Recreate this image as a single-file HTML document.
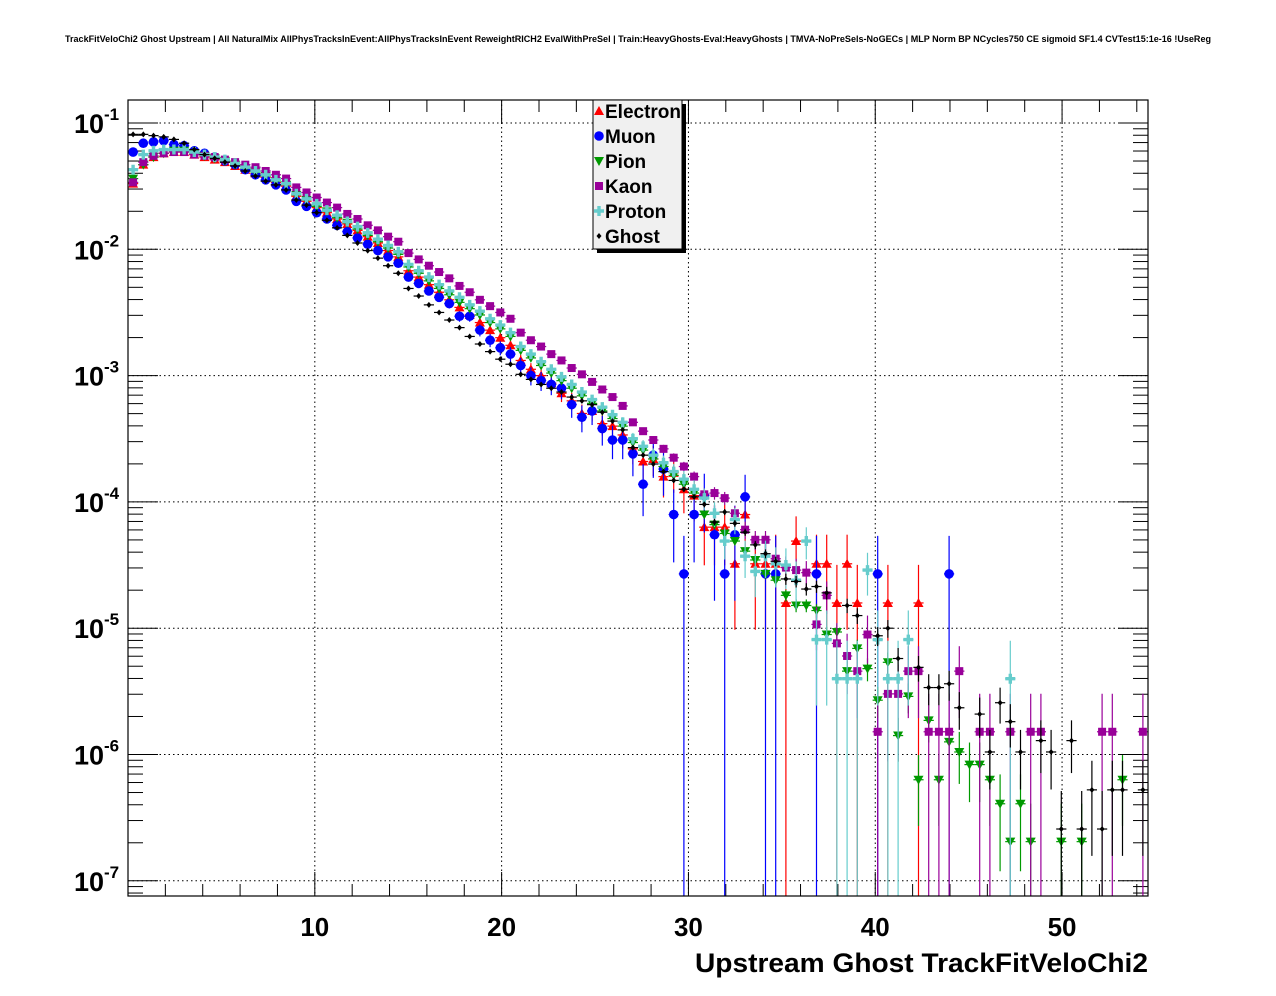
<!DOCTYPE html>
<html><head><meta charset="utf-8"><style>
html,body{margin:0;padding:0;background:#fff;}
svg{display:block;font-family:"Liberation Sans",sans-serif;}
</style></head><body>
<svg id="chart" width="1276" height="996" viewBox="0 0 1276 996" xmlns="http://www.w3.org/2000/svg">
<rect x="0" y="0" width="1276" height="996" fill="#fff"/>
<text x="638" y="42" text-anchor="middle" font-size="9.5" font-weight="bold" textLength="1146" lengthAdjust="spacingAndGlyphs">TrackFitVeloChi2 Ghost Upstream | All NaturalMix AllPhysTracksInEvent:AllPhysTracksInEvent ReweightRICH2 EvalWithPreSel | Train:HeavyGhosts-Eval:HeavyGhosts | TMVA-NoPreSels-NoGECs | MLP Norm BP NCycles750 CE sigmoid SF1.4 CVTest15:1e-16 !UseReg</text>
<g id="grid"></g>
<g id="axes"></g>
<g id="series"></g>
<rect x="128" y="100" width="1020" height="796" fill="none" stroke="#000" stroke-width="1.2"/>
<g id="legend"></g>
<text x="695" y="972" font-size="27" font-weight="bold" textLength="453" lengthAdjust="spacingAndGlyphs">Upstream Ghost TrackFitVeloChi2</text>
</svg>
<script>
// ---- data (log10 of normalized entries per bin; 100 bins over 0..54.6) ----
const binWidth = 0.546;
const xTicks = [10, 20, 30, 40, 50];
const xTickLabels = ["10", "20", "30", "40", "50"];
const yDecades = [-1, -2, -3, -4, -5, -6, -7];
const seriesNames = ["Electron", "Muon", "Pion", "Kaon", "Proton", "Ghost"];

const electronMain = [-1.48,-1.33,-1.27,-1.24,-1.23,-1.23,-1.25,-1.27,-1.29,-1.31,-1.34,-1.37,-1.40,-1.43,-1.47,-1.50,-1.58,-1.62,-1.67,-1.71,-1.76,-1.80,-1.85,-1.90,-1.95,-2.01,-2.06,-2.17,-2.22,-2.28,-2.34,-2.40,-2.46,-2.52,-2.58,-2.64,-2.70,-2.76,-2.88,-2.95,-3.00,-3.06,-3.14,-3.20,-3.30,-3.28,-3.38,-3.40,-3.47,-3.58,-3.68,-3.66,-3.80,-3.77,-3.90,-3.95];
const muonMain = [-1.23,-1.16,-1.15,-1.14,-1.17,-1.18,-1.22,-1.24,-1.27,-1.30,-1.33,-1.37,-1.41,-1.45,-1.49,-1.53,-1.62,-1.66,-1.71,-1.76,-1.81,-1.86,-1.91,-1.96,-2.01,-2.06,-2.11,-2.22,-2.27,-2.33,-2.38,-2.43,-2.53,-2.53,-2.64,-2.72,-2.78,-2.83,-2.92,-3.00,-3.04,-3.07,-3.10,-3.23,-3.33,-3.28,-3.42,-3.51,-3.51,-3.62,-3.86,-3.63,-3.74,-4.10,-4.57,-4.10];
const pionMain = [-1.44,-1.33,-1.27,-1.24,-1.22,-1.22,-1.24,-1.26,-1.28,-1.30,-1.33,-1.36,-1.39,-1.42,-1.46,-1.49,-1.57,-1.61,-1.66,-1.70,-1.75,-1.79,-1.84,-1.89,-1.94,-1.99,-2.04,-2.14,-2.19,-2.25,-2.31,-2.36,-2.42,-2.47,-2.52,-2.58,-2.63,-2.69,-2.80,-2.86,-2.92,-2.98,-3.04,-3.10,-3.16,-3.22,-3.28,-3.34,-3.40,-3.53,-3.59,-3.66,-3.72,-3.79,-3.86,-3.93];
const kaonMain = [-1.47,-1.31,-1.26,-1.24,-1.23,-1.23,-1.25,-1.26,-1.27,-1.29,-1.31,-1.33,-1.35,-1.38,-1.41,-1.44,-1.51,-1.55,-1.59,-1.63,-1.67,-1.72,-1.76,-1.81,-1.85,-1.90,-1.94,-2.03,-2.08,-2.13,-2.18,-2.23,-2.29,-2.34,-2.40,-2.45,-2.50,-2.55,-2.66,-2.72,-2.77,-2.83,-2.88,-2.94,-2.99,-3.05,-3.11,-3.17,-3.24,-3.37,-3.44,-3.51,-3.58,-3.65,-3.72,-3.80];
const protonMain = [-1.37,-1.25,-1.22,-1.21,-1.21,-1.21,-1.23,-1.25,-1.27,-1.29,-1.32,-1.35,-1.38,-1.41,-1.45,-1.48,-1.56,-1.60,-1.64,-1.69,-1.73,-1.78,-1.82,-1.87,-1.92,-1.97,-2.02,-2.12,-2.17,-2.22,-2.28,-2.33,-2.38,-2.44,-2.49,-2.55,-2.60,-2.66,-2.77,-2.83,-2.89,-2.95,-3.01,-3.07,-3.13,-3.19,-3.25,-3.31,-3.37,-3.50,-3.56,-3.63,-3.69,-3.76,-3.82,-3.90];
const ghostMain = [-1.09,-1.09,-1.10,-1.11,-1.13,-1.16,-1.21,-1.25,-1.28,-1.31,-1.34,-1.38,-1.42,-1.46,-1.49,-1.53,-1.61,-1.65,-1.71,-1.77,-1.83,-1.89,-1.95,-2.01,-2.07,-2.13,-2.19,-2.31,-2.37,-2.44,-2.50,-2.56,-2.62,-2.69,-2.75,-2.81,-2.87,-2.91,-2.99,-3.03,-3.07,-3.10,-3.13,-3.17,-3.20,-3.23,-3.29,-3.36,-3.43,-3.57,-3.63,-3.70,-3.76,-3.83,-3.90,-3.96];

const electronTailBins = [56,57,58,59,60,61,62,63,64,65,67,68,69,70,71,74,77];
const electronTailVals = [-4.20,-4.20,-4.20,-4.49,-4.10,-4.49,-4.49,-4.49,-4.80,-4.31,-4.49,-4.49,-4.80,-4.49,-4.80,-4.80,-4.80];
const muonTailBins = [56,57,58,59,60,62,63,67,73,80];
const muonTailVals = [-3.95,-4.26,-4.57,-4.26,-3.96,-4.57,-4.57,-4.57,-4.57,-4.57];
const pionTailBins = [56,57,58,59,60,61,62,63,64,65,66,67,68,69,70,71,72,73,74,75,76,77,78,79,80,81,82,83,84,85,86,87,88,91,93,97];
const pionTailVals = [-4.10,-4.18,-4.25,-4.31,-4.39,-4.46,-4.57,-4.62,-4.74,-4.82,-4.82,-4.86,-5.05,-5.03,-5.34,-5.16,-5.32,-5.57,-5.27,-5.85,-5.54,-6.20,-5.73,-6.20,-5.90,-5.98,-6.08,-6.08,-6.20,-6.39,-6.69,-6.39,-6.69,-6.69,-6.69,-6.20];
const kaonTailBins = [56,57,58,59,60,61,62,63,64,65,66,67,68,69,70,71,72,73,74,75,76,77,78,79,80,81,83,84,86,88,89,95,96,99];
const kaonTailVals = [-3.94,-3.93,-3.97,-4.09,-4.22,-4.30,-4.30,-4.45,-4.52,-4.54,-4.56,-4.97,-4.74,-5.12,-5.22,-5.34,-5.05,-5.82,-5.52,-5.52,-5.34,-5.34,-5.82,-5.82,-5.82,-5.34,-5.82,-5.82,-5.82,-5.82,-5.82,-5.82,-5.82,-5.82];
const protonTailBins = [56,57,58,59,60,61,62,63,64,65,66,67,68,69,70,71,72,73,74,75,76,86];
const protonTailVals = [-3.97,-4.09,-4.31,-4.14,-4.43,-4.55,-4.43,-4.49,-4.50,-4.62,-4.31,-5.09,-5.09,-5.40,-5.40,-5.40,-4.54,-5.09,-5.40,-5.40,-5.09,-5.40];
const ghostTailBins = [56,57,58,59,60,61,62,63,64,65,66,67,68,70,71,73,74,75,77,78,79,80,81,83,84,85,86,87,89,90,91,92,93,94,95,96,97,99];
const ghostTailVals = [-4.02,-4.16,-4.08,-4.17,-4.24,-4.34,-4.41,-4.47,-4.61,-4.63,-4.69,-4.67,-4.72,-4.82,-4.90,-5.06,-5.00,-5.24,-5.31,-5.47,-5.47,-5.44,-5.63,-5.68,-5.98,-5.59,-5.74,-5.98,-5.89,-5.98,-6.59,-5.89,-6.59,-6.28,-6.59,-6.28,-6.28,-6.28];

// log10 of one-entry weight per species (sets statistical error size)
const singleEntryLog = [-4.80, -4.57, -6.69, -5.82, -5.40, -6.59];

// ---- layout ----
const L = 128, R = 1148, T = 100, B = 896;
const xMax = 54.6;
const NS = "http://www.w3.org/2000/svg";
function xPx(v){ return L + (v / xMax) * (R - L); }
function yPx(lg){ return 123 + (-1 - lg) * 126.3; }
function mk(tag, attrs, parent){
  const e = document.createElementNS(NS, tag);
  for (const k in attrs) e.setAttribute(k, attrs[k]);
  parent.appendChild(e);
  return e;
}
const grid = document.getElementById('grid');
const axes = document.getElementById('axes');
const seriesG = document.getElementById('series');
const legend = document.getElementById('legend');

// grid
xTicks.forEach(t => {
  const ln = mk('line', {x1:xPx(t), x2:xPx(t), y1:T, y2:B, stroke:'#000', 'stroke-width':1, 'stroke-dasharray':'1.5,3'}, grid);
  
  
});
yDecades.forEach(d => {
  const ln = mk('line', {x1:L, x2:R, y1:yPx(d), y2:yPx(d), stroke:'#000', 'stroke-width':1, 'stroke-dasharray':'1.5,3'}, grid);
  
  
});

// x ticks
for (let v = 2; v < xMax; v += 2) {
  const major = (v % 10 === 0);
  const len = major ? 24 : 12;
  const t1 = mk('line', {x1:xPx(v), x2:xPx(v), y1:B, y2:B-len, stroke:'#000', 'stroke-width':1}, axes);
  
  
  const t2 = mk('line', {x1:xPx(v), x2:xPx(v), y1:T, y2:T+len, stroke:'#000', 'stroke-width':1}, axes);
  
  
}
xTicks.forEach((t, i) => {
  const tx = mk('text', {x:xPx(t), y:936, 'text-anchor':'middle', 'font-size':26, 'font-weight':'bold'}, axes);
  tx.textContent = xTickLabels[i];
  
  
});
// y ticks
for (let d = -1; d >= -8; d--) {
  for (let m = 1; m <= 9; m++) {
    const lg = d + Math.log10(m);
    const y = yPx(lg);
    if (y < T || y > B) continue;
    const len = m === 1 ? 30 : 15;
    const a = mk('line', {x1:L, x2:L+len, y1:y, y2:y, stroke:'#000', 'stroke-width':1}, axes);
    
    
    const b = mk('line', {x1:R, x2:R-len, y1:y, y2:y, stroke:'#000', 'stroke-width':1}, axes);
    
    
  }
}
yDecades.forEach(d => {
  const y = yPx(d);
  const tx = mk('text', {x:104, y:y+10, 'text-anchor':'end', 'font-size':27, 'font-weight':'bold'}, axes);
  tx.textContent = '10';
  
  
  const ex = mk('text', {x:104, y:y-3, 'text-anchor':'start', 'font-size':17, 'font-weight':'bold'}, axes);
  ex.textContent = String(d);
  
  
});

// markers
const colors = ['#ff0000', '#0000ff', '#009900', '#990099', '#66cccc', '#000000'];
function marker(kind, cx, cy, col, parent){
  let e;
  if (kind === 0) e = mk('polygon', {points:`${cx},${cy-5} ${cx+5},${cy+4} ${cx-5},${cy+4}`, fill:col}, parent);
  else if (kind === 1) e = mk('circle', {cx:cx, cy:cy, r:4.8, fill:col}, parent);
  else if (kind === 2) e = mk('polygon', {points:`${cx-5},${cy-4} ${cx+5},${cy-4} ${cx},${cy+5}`, fill:col}, parent);
  else if (kind === 3) e = mk('rect', {x:cx-4, y:cy-4, width:8, height:8, fill:col}, parent);
  else if (kind === 4) e = mk('path', {d:`M${cx-5},${cy-1.7}h3.3v-3.3h3.4v3.3h3.3v3.4h-3.3v3.3h-3.4v-3.3h-3.3z`, fill:col}, parent);
  else e = mk('polygon', {points:`${cx},${cy-3} ${cx+2.5},${cy} ${cx},${cy+3} ${cx-2.5},${cy}`, fill:col}, parent);
  return e;
}

const mains = [electronMain, muonMain, pionMain, kaonMain, protonMain, ghostMain];
const tailBins = [electronTailBins, muonTailBins, pionTailBins, kaonTailBins, protonTailBins, ghostTailBins];
const tailVals = [electronTailVals, muonTailVals, pionTailVals, kaonTailVals, protonTailVals, ghostTailVals];

mains.forEach((main, s) => {
  const g = mk('g', {}, seriesG);
  
  
  const pts = [];
  main.forEach((v, i) => pts.push([i, v]));
  tailBins[s].forEach((b, k) => pts.push([b, tailVals[s][k]]));
  const col = colors[s];
  pts.forEach(([i, v]) => {
    const xc = (i + 0.5) * binWidth;
    const cx = xPx(xc), cy = yPx(v);
    const rel = Math.sqrt(Math.pow(10, singleEntryLog[s] - v));
    const yTop = yPx(v + Math.log10(1 + rel));
    const yBot = rel >= 0.999 ? B : Math.min(B, yPx(v + Math.log10(1 - rel)));
    const ev = mk('line', {x1:cx, x2:cx, y1:yTop, y2:yBot, stroke:col, 'stroke-width':1.2}, g);
    
    
    const eh = mk('line', {x1:xPx(xc - binWidth/2), x2:xPx(xc + binWidth/2), y1:cy, y2:cy, stroke:col, 'stroke-width':1.2}, g);
    
    
    const m = marker(s, cx, cy, col, g);
    
    
  });
});

// legend
const sh = mk('rect', {x:597, y:104, width:89, height:149, fill:'#000'}, legend);


const bx = mk('rect', {x:593, y:100, width:89, height:149, fill:'#f0f0f0', stroke:'#000', 'stroke-width':1}, legend);


seriesNames.forEach((n, s) => {
  const y = 111 + s * 25;
  const mm = marker(s, 599, y, colors[s], legend);
  
  
  const t = mk('text', {x:605, y:y+7, 'font-size':19, 'font-weight':'bold'}, legend);
  t.textContent = n;
  
  
});
</script>
</body></html>
